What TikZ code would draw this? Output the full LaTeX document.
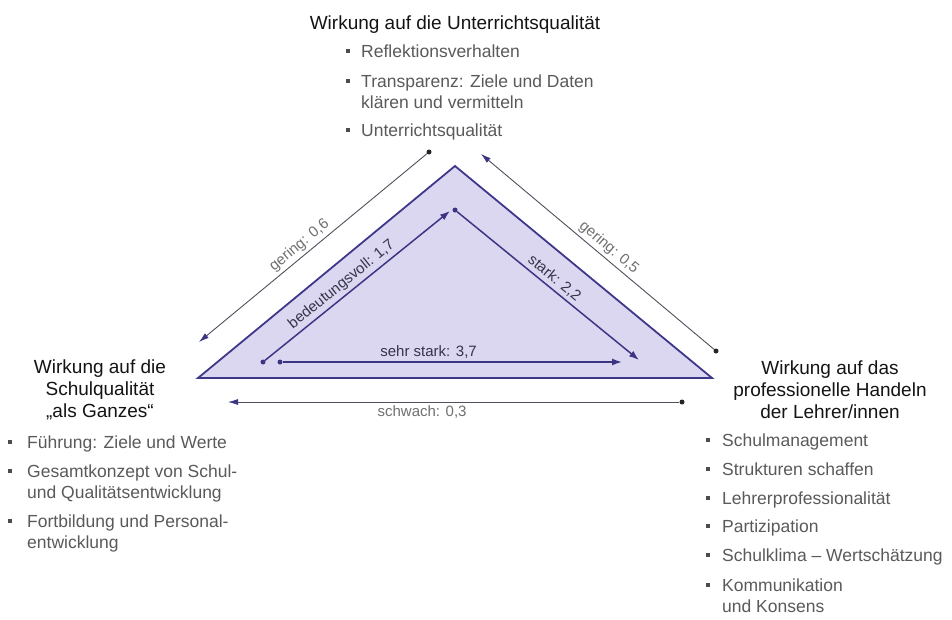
\documentclass[tikz,border=0pt]{standalone}
\usepackage{fontspec}
\setmainfont{Liberation Sans}
\usetikzlibrary{arrows.meta}

\definecolor{triline}{HTML}{3E388A}
\definecolor{trifill}{HTML}{DCD7F1}
\definecolor{darkarrow}{HTML}{3B3584}
\definecolor{lightarrow}{HTML}{50505E}
\definecolor{itemgray}{HTML}{5A5A5A}
\definecolor{labelgray}{HTML}{707070}
\definecolor{labeldark}{HTML}{34344A}

% multi-line text blocks, anchored at the baseline of their first line
\newcommand\centerlines[1]{\parbox[t]{260pt}{\centering #1}}
\newcommand\leftlines[1]{\parbox[t]{300pt}{\raggedright #1}}

\tikzset{
  heading/.style={font=\fontsize{19}{22}\selectfont, text=black!92, inner sep=0pt, anchor=base},
  listitem/.style={font=\fontsize{17.5}{21}\selectfont, text=itemgray, inner sep=0pt, anchor=base west},
  dotnode/.style={circle, fill=#1, inner sep=0pt, minimum size=5pt},
  strongarrow/.style={draw=darkarrow, line width=1.5pt, -{Latex[length=10pt,width=7pt]}},
  weakarrow/.style={draw=lightarrow, line width=0.9pt},
  weaktip/.style={{Latex[length=10pt,width=6pt,color=darkarrow]}-},
  darklabel/.style={font=\fontsize{15}{18}\selectfont, text=labeldark, sloped, above, inner sep=3pt},
  greylabel/.style={font=\fontsize{15}{18}\selectfont, text=labelgray, sloped, inner sep=3pt},
}

\begin{document}
\begin{tikzpicture}[x=1pt,y=-1pt]
  \useasboundingbox (0,0) rectangle (952,619);
  \fill[white] (0,0) rectangle (952,619);

  % the triangle
  \draw[triline, fill=trifill, line width=1.8pt, line join=miter]
    (455,166) -- (712,378) -- (198,378) -- cycle;

  % start points of the arrows
  \node[dotnode=black!85] (g6s) at (429,152) {};
  \node[dotnode=darkarrow] (b7s) at (263,362) {};
  \node[dotnode=darkarrow] (s2s) at (455,210) {};
  \node[dotnode=black!85] (g5s) at (716,351) {};
  \node[dotnode=darkarrow] (s3s) at (280,362) {};
  \node[dotnode=black!85] (w3s) at (682,402) {};

  % end points of the arrows
  \coordinate (g6e) at (199,342);
  \coordinate (b7e) at (450,211);
  \coordinate (s2e) at (639,360);
  \coordinate (g5e) at (481,154);
  \coordinate (s3e) at (622,362);
  \coordinate (w3e) at (228,402);

  % weak effects (outside the triangle)
  \draw[weakarrow, weaktip] (g6e) -- (g6s)
    node[greylabel, above, pos=0.47] {gering: 0,6};
  \draw[weakarrow, weaktip] (g5e) -- (g5s)
    node[greylabel, above, pos=0.52] {gering: 0,5};
  \draw[weakarrow, weaktip] (w3e) -- (w3s)
    node[greylabel, below, pos=0.43] {schwach: 0,3};

  % strong effects (inside the triangle)
  \draw[strongarrow] (b7s) -- (b7e)
    node[darklabel, pos=0.45] {bedeutungsvoll: 1,7};
  \draw[strongarrow] (s2s) -- (s2e)
    node[darklabel, pos=0.5] {stark: 2,2};
  \draw[strongarrow] (s3s) -- (s3e)
    node[darklabel, pos=0.43] {sehr stark: 3,7};

  % headings
  \node[heading] (htop) at (455,29) {Wirkung auf die Unterrichtsqualität};
  \node[heading] (hleft) at (100,373)
    {\centerlines{Wirkung auf die\\Schulqualität\\„als Ganzes“}};
  \node[heading] (hright) at (830,374)
    {\centerlines{Wirkung auf das\\professionelle Handeln\\der Lehrer/innen}};

  % list items
  \node[listitem] (t1) at (361,57) {Reflektionsverhalten};
  \node[listitem] (t2) at (361,87) {\leftlines{Transparenz: Ziele und Daten\\klären und vermitteln}};
  \node[listitem] (t3) at (361,136) {Unterrichtsqualität};

  \node[listitem] (l1) at (27,448) {Führung: Ziele und Werte};
  \node[listitem] (l2) at (27,477) {\leftlines{Gesamtkonzept von Schul-\\und Qualitätsentwicklung}};
  \node[listitem] (l3) at (27,527) {\leftlines{Fortbildung und Personal-\\entwicklung}};

  \node[listitem] (r1) at (722,446) {Schulmanagement};
  \node[listitem] (r2) at (722,475) {Strukturen schaffen};
  \node[listitem] (r3) at (722,504) {Lehrerprofessionalität};
  \node[listitem] (r4) at (722,532) {Partizipation};
  \node[listitem] (r5) at (722,561) {Schulklima – Wertschätzung};
  \node[listitem] (r6) at (722,591) {\leftlines{Kommunikation\\und Konsens}};

  % square bullets
  \foreach \bx/\by in {348/57, 348/87, 348/136,
                       10/448, 10/477, 10/527,
                       708/446, 708/475, 708/504, 708/532, 708/561, 708/591}
    \fill[black!70] (\bx-2.2,\by-8.2) rectangle (\bx+2.2,\by-3.8);
\end{tikzpicture}
\end{document}
